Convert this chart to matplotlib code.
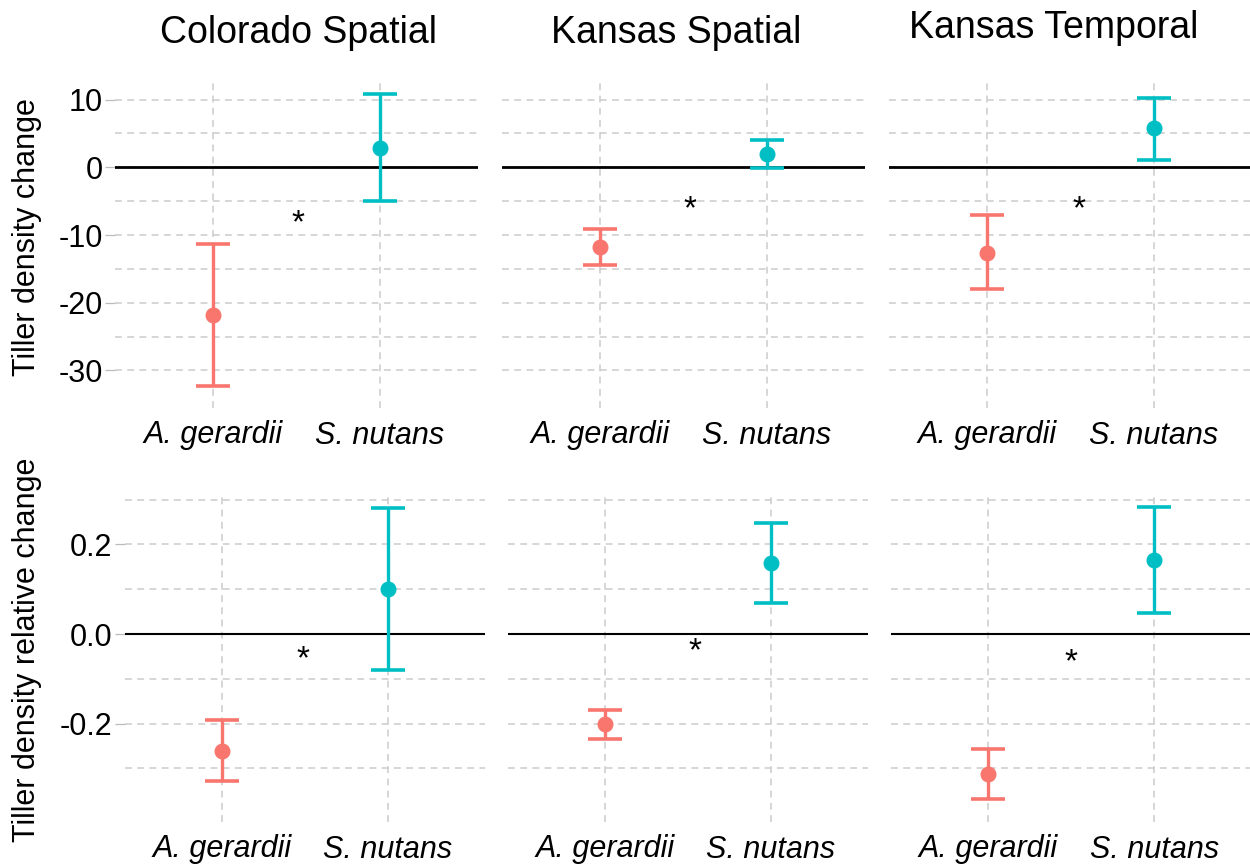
import numpy as np
import matplotlib.pyplot as plt
from matplotlib.ticker import FixedLocator, FixedFormatter

plt.rcParams['font.family'] = ['Liberation Sans', 'DejaVu Sans']
plt.rcParams['axes.unicode_minus'] = False

# data
species = ["A. gerardii", "S. nutans"]
sites = ["Colorado Spatial", "Kansas Spatial", "Kansas Temporal"]
colors = ["#F8766D", "#00BFC4"]

# tiller density change, per site: [A. gerardii, S. nutans]
abs_mean = [[-21.8, 2.8], [-11.7, 2.0], [-12.6, 5.8]]
abs_low = [[-32.3, -5.0], [-14.4, -0.15], [-18.0, 1.1]]
abs_high = [[-11.4, 10.9], [-9.1, 4.1], [-7.0, 10.3]]
abs_star_x = [1.51, 1.54, 1.55]
abs_star_y = [-7.1, -5.1, -5.0]

# tiller density relative change
rel_mean = [[-0.261, 0.100], [-0.202, 0.158], [-0.313, 0.165]]
rel_low = [[-0.328, -0.080], [-0.235, 0.070], [-0.369, 0.046]]
rel_high = [[-0.192, 0.281], [-0.170, 0.247], [-0.258, 0.284]]
rel_star_x = [1.49, 1.54, 1.50]
rel_star_y = [-0.040, -0.021, -0.047]

abs_major = [10, 0, -10, -20, -30]
abs_minor = [5, -5, -15, -25]
abs_labels = ["10", "0", "-10", "-20", "-30"]
rel_major = [0.2, 0.0, -0.2]
rel_minor = [0.3, 0.1, -0.1, -0.3]
rel_labels = ["0.2", "0.0", "-0.2"]

W, H = 1250, 864
fig = plt.figure(figsize=(W / 100, H / 100), dpi=100)


def px_axes(left, top, width, height):
    return fig.add_axes([left / W, 1 - (top + height) / H, width / W, height / H])


def panel(ax, mean, low, high, sx, sy, ylim, major, minor, labels, show_y, zero_lw):
    ax.set_xlim(0.415, 2.585)
    ax.set_ylim(ylim)
    for s in ax.spines.values():
        s.set_visible(False)
    ax.set_axisbelow(True)
    ax.yaxis.set_major_locator(FixedLocator(major))
    ax.yaxis.set_minor_locator(FixedLocator(minor))
    ax.grid(which='both', color='#cccccc', lw=1.1, ls=(0, (4.5, 3.5)))
    ax.axhline(0, color='black', lw=zero_lw, zorder=2)
    x = np.arange(1, 3)
    for i in range(2):
        ax.errorbar(x[i], mean[i], yerr=[[mean[i] - low[i]], [high[i] - mean[i]]],
                    fmt='o', color=colors[i], ms=10.5, elinewidth=2.4,
                    capsize=12, capthick=2.6, zorder=3)
    ax.set_xticks(x)
    ax.set_xticklabels(species, fontstyle='italic', fontsize=22)
    ax.tick_params(axis='x', length=0, pad=9)
    ax.tick_params(axis='y', which='minor', length=0)
    if show_y:
        ax.yaxis.set_major_formatter(FixedFormatter(labels))
        ax.tick_params(axis='y', which='major', length=7, width=0.9,
                       color='#bbbbbb', labelsize=22, pad=2)
    else:
        ax.tick_params(axis='y', which='major', length=0, labelleft=False)
    ax.annotate('*', (sx, sy), xytext=(0, -12), textcoords='offset points',
                ha='center', va='baseline', fontsize=24)


top_lefts = [115.3, 502.3, 889.0]
bot_lefts = [124.6, 507.9, 891.2]

for k in range(3):
    ax = px_axes(top_lefts[k], 82, 362.4, 326)
    panel(ax, abs_mean[k], abs_low[k], abs_high[k], abs_star_x[k], abs_star_y[k],
          (-35.55, 12.6), abs_major, abs_minor, abs_labels, k == 0, 2.0)
    ax = px_axes(bot_lefts[k], 493, 360.2, 329)
    panel(ax, rel_mean[k], rel_low[k], rel_high[k], rel_star_x[k], rel_star_y[k],
          (-0.42, 0.315), rel_major, rel_minor, rel_labels, k == 0, 1.5)

# facet titles
title_x = [298, 676, 1054]
title_base = [43, 43, 38]
for k in range(3):
    fig.text(title_x[k] / W, 1 - title_base[k] / H, sites[k], fontsize=27,
             ha='center', va='baseline')

fig.text(27 / W, 1 - 237 / H, "Tiller density change", fontsize=22,
         rotation=90, ha='center', va='center')
fig.text(27 / W, 1 - 650 / H, "Tiller density relative change", fontsize=22,
         rotation=90, ha='center', va='center')

fig.savefig("out.png", dpi=100)
